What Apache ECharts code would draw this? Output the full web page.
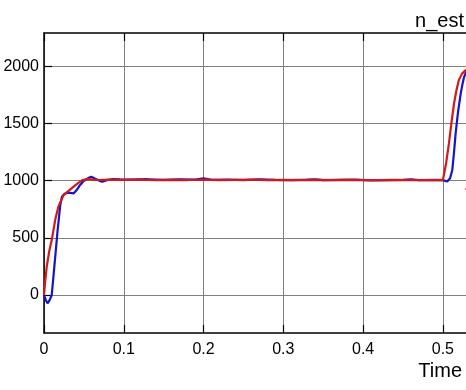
<!DOCTYPE html>
<html>
<head>
<meta charset="utf-8">
<script src="https://cdn.jsdelivr.net/npm/echarts@6/dist/echarts.min.js"></script>
<style>
html,body{margin:0;padding:0;background:#fff;}
#c{width:466px;height:390px;}
</style>
</head>
<body>
<div id="c"></div>
<script>
// ---- data ----
var title = "n_est";
var xName = "Time";
var xTicks = [0, 0.1, 0.2, 0.3, 0.4, 0.5];
var yTicks = [0, 500, 1000, 1500, 2000];

var tBlue = [0, 0.0025, 0.0047, 0.007, 0.0097, 0.013, 0.017, 0.0203, 0.0224, 0.0255, 0.0287, 0.033, 0.037, 0.041, 0.045, 0.050, 0.055, 0.059, 0.062, 0.065, 0.069, 0.073, 0.079, 0.085, 0.095, 0.11, 0.13, 0.15, 0.17, 0.19, 0.2, 0.21, 0.23, 0.25, 0.27, 0.29, 0.31, 0.33, 0.34, 0.35, 0.37, 0.39, 0.41, 0.43, 0.45, 0.46, 0.47, 0.49, 0.5, 0.5055, 0.507, 0.509, 0.5118, 0.514, 0.516, 0.519, 0.5224, 0.5245, 0.5266, 0.529, 0.5316, 0.534];
var yBlue = [0, -50, -72, -45, 0, 250, 560, 780, 858, 882, 893, 892, 888, 917, 960, 998, 1020, 1033, 1025, 1013, 1000, 990, 1004, 1012, 1010, 1008, 1012, 1006, 1010, 1008, 1020, 1006, 1008, 1004, 1010, 1006, 1004, 1008, 1012, 1004, 1006, 1008, 1002, 1004, 1006, 1012, 1004, 1006, 1004, 992, 985, 1020, 1092, 1250, 1412, 1600, 1762, 1840, 1907, 1945, 1965, 1970];

var tRed = [0, 0.0015, 0.0034, 0.0065, 0.0097, 0.014, 0.018, 0.0245, 0.033, 0.041, 0.048, 0.055, 0.062, 0.07, 0.08, 0.1, 0.12, 0.14, 0.16, 0.18, 0.2, 0.22, 0.24, 0.26, 0.28, 0.3, 0.32, 0.34, 0.36, 0.38, 0.4, 0.42, 0.44, 0.46, 0.48, 0.5, 0.5013, 0.504, 0.5076, 0.511, 0.514, 0.517, 0.520, 0.524, 0.5287, 0.534];
var yRed = [0, 120, 247, 380, 480, 655, 771, 873, 923, 969, 1004, 1013, 1008, 1005, 1008, 1006, 1008, 1004, 1007, 1005, 1008, 1004, 1006, 1008, 1004, 1006, 1005, 1007, 1004, 1006, 1005, 1004, 1006, 1005, 1004, 1004, 1004, 1150, 1325, 1520, 1674, 1790, 1878, 1935, 1965, 1975];

var markerPoint = [[0.530, 926]];

function pairs(t, y){ var o=[]; for(var i=0;i<t.length;i++) o.push([t[i], y[i]]); return o; }

var chart = echarts.init(document.getElementById('c'), null, {renderer:'canvas'});
var font = 'Liberation Sans, Arial, sans-serif';
chart.setOption({
  animation: false,
  backgroundColor: '#ffffff',
  title: {
    text: title, right: -3, top: 6,
    textStyle: {fontFamily: font, fontSize: 20, fontWeight: 'normal', color: '#000'}
  },
  grid: {left: 44, top: 33, right: -4, bottom: 57, containLabel: false, outerBoundsMode: 'none'},
  xAxis: [{
    type: 'value', min: 0, max: 0.534, position: 'bottom',
    name: xName, nameLocation: 'end', nameGap: 0,
    nameTextStyle: {fontFamily: font, fontSize: 20, color: '#000', align: 'right', verticalAlign: 'top', padding: [28, 8, 0, 0]},
    axisLine: {show: true, onZero: false, lineStyle: {color: '#000', width: 1.5}},
    axisTick: {show: true, inside: true, length: 8, customValues: xTicks, lineStyle: {color: '#000', width: 1.2}},
    axisLabel: {show: true, customValues: xTicks, margin: 9, fontFamily: font, fontSize: 16, color: '#000',
      formatter: function(v){ return String(v); }},
    splitLine: {show: true, lineStyle: {color: '#808080', width: 1}}
  }, {
    type: 'value', min: 0, max: 0.534, position: 'top',
    axisLine: {show: true, onZero: false, lineStyle: {color: '#000', width: 1.5}},
    axisTick: {show: true, inside: true, length: 8, customValues: xTicks, lineStyle: {color: '#000', width: 1.2}},
    axisLabel: {show: false},
    splitLine: {show: false}
  }],
  yAxis: [{
    type: 'value', min: -332, max: 2290, position: 'left',
    axisLine: {show: true, onZero: false, lineStyle: {color: '#000', width: 1.5}},
    axisTick: {show: true, inside: true, length: 8, customValues: yTicks, lineStyle: {color: '#000', width: 1.2}},
    axisLabel: {show: true, customValues: yTicks, margin: 5, fontFamily: font, fontSize: 16, color: '#000',
      formatter: function(v){ return String(v); }},
    splitLine: {show: true, lineStyle: {color: '#808080', width: 1}}
  }],
  series: [{
    type: 'line', name: 'blue', data: pairs(tBlue, yBlue), showSymbol: false, symbol: 'none',
    lineStyle: {color: '#1414c8', width: 2.2}, z: 3
  }, {
    type: 'line', name: 'red', data: pairs(tRed, yRed), showSymbol: false, symbol: 'none',
    lineStyle: {color: '#d41818', width: 2.2}, z: 4
  }, {
    type: 'scatter', data: markerPoint, symbol: 'triangle', symbolSize: [6, 5], symbolRotate: 90,
    itemStyle: {color: '#e02020'}, z: 5
  }]
});
</script>
</body>
</html>
